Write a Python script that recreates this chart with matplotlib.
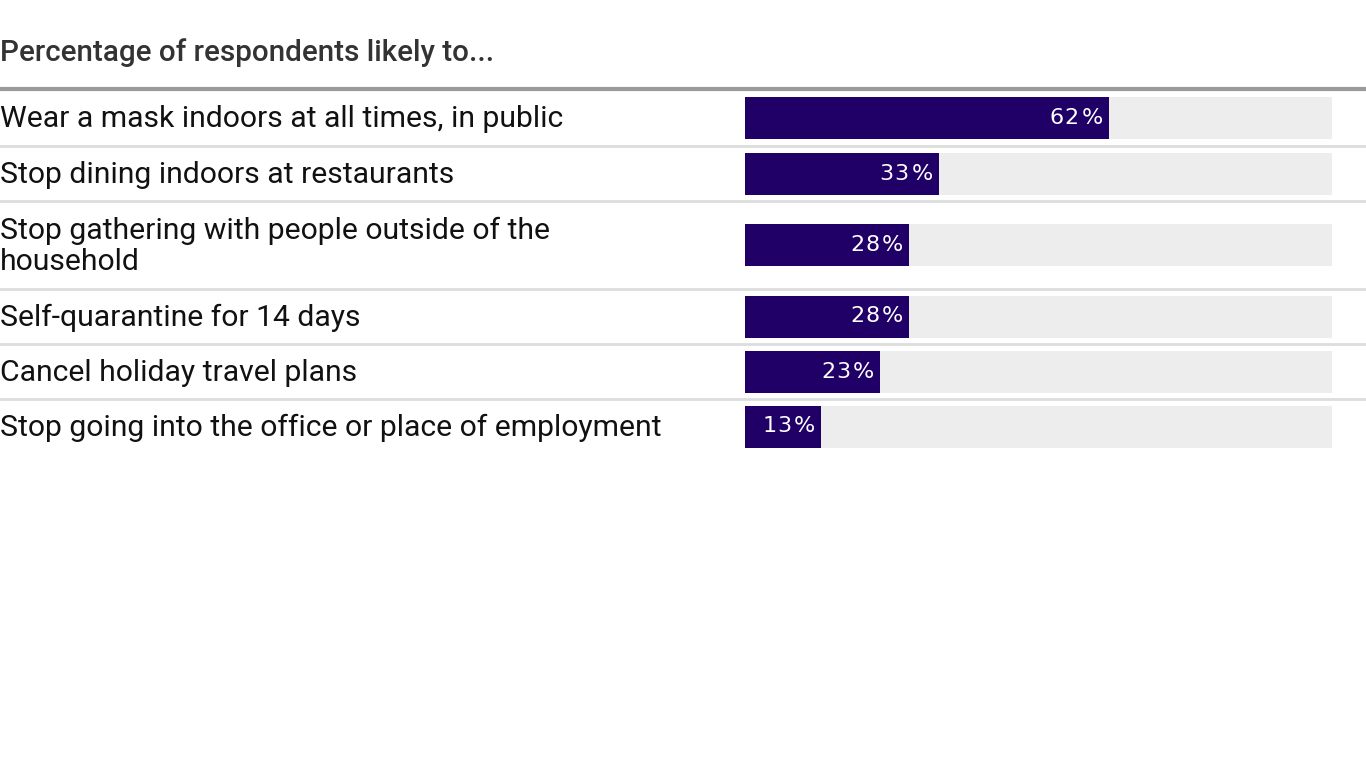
import matplotlib
matplotlib.use("Agg")
import matplotlib.pyplot as plt
from matplotlib.transforms import offset_copy

# ─── données ────────────────────────────────────────────────────────────────
TITLE = "Percentage of respondents likely to..."
LABELS = [
    "Wear a mask indoors at all times, in public",
    "Stop dining indoors at restaurants",
    "Stop gathering with people outside of the\nhousehold",
    "Self-quarantine for 14 days",
    "Cancel holiday travel plans",
    "Stop going into the office or place of employment",
]
VALUES = [62, 33, 28, 28, 23, 13]

# ─── style ──────────────────────────────────────────────────────────────────
W, H = 1366, 768
BAR_COLOR = "#200066"
TRACK_COLOR = "#ededed"
SEP_COLOR = "#dddddd"
TOP_RULE = "#9a9a9a"
TEXT_COLOR = "#111111"
FONT = "Roboto"

BAR_X0, BAR_X1 = 745, 1332   # pixels : 0 % et 100 %
TOP_Y = 89
ROW_H_1 = 55                 # hauteur de ligne, libellé sur une ligne
ROW_H_2 = 88                 # libellé sur deux lignes
BAR_H = 42
PCT_PAD = 6                  # marge droite du signe %
DIGIT_PAD = 30               # bord droit du dernier chiffre
DIGIT_ADV = 15               # chasse des chiffres, espacement large
VAL_SIZE = 16

fig = plt.figure(figsize=(W / 100, H / 100), dpi=100)

# axe plein cadre, coordonnées pixel (y vers le bas)
bg = fig.add_axes([0, 0, 1, 1])
bg.set_xlim(0, W)
bg.set_ylim(H, 0)
bg.axis("off")

# axe des barres : x en pourcentage, y en pixels
ax = fig.add_axes([BAR_X0 / W, 0, (BAR_X1 - BAR_X0) / W, 1])
ax.set_xlim(0, 100)
ax.set_ylim(H, 0)
ax.axis("off")

bg.text(0, 53, TITLE, fontsize=21.3, fontweight="medium", color="#333333",
        family=FONT, ha="left", va="center")
bg.axhline(TOP_Y, color=TOP_RULE, lw=3)


def value_label(val, yc):
    """Valeur en blanc, collée au bout de la barre, lettres espacées."""
    tr = offset_copy(ax.transData, fig=fig, x=-PCT_PAD, y=0, units="dots")
    ax.text(val, yc, "%", color="white", fontsize=VAL_SIZE,
            family="DejaVu Sans", ha="right", va="center", transform=tr)
    for k, ch in enumerate(reversed(str(val))):
        tr = offset_copy(ax.transData, fig=fig,
                         x=-(DIGIT_PAD + k * DIGIT_ADV), y=0, units="dots")
        ax.text(val, yc, ch, color="white", fontsize=VAL_SIZE,
                family="DejaVu Sans", ha="right", va="center", transform=tr)


y = TOP_Y
for i, (lab, val) in enumerate(zip(LABELS, VALUES)):
    h = ROW_H_2 if "\n" in lab else ROW_H_1
    if i == 0:
        h += 2  # la première ligne inclut l'épaisseur du filet du haut
    yc = y + h / 2
    ax.barh(yc, 100, height=BAR_H, left=0, color=TRACK_COLOR, lw=0)
    ax.barh(yc, val, height=BAR_H, left=0, color=BAR_COLOR, lw=0)
    value_label(val, yc)
    bg.text(0, yc + 1.5, lab, fontsize=21.7, color=TEXT_COLOR, family=FONT,
            ha="left", va="center", linespacing=1.17)
    y += h
    if i < len(LABELS) - 1:
        bg.axhline(y, color=SEP_COLOR, lw=2)

fig.savefig("out.png", dpi=100)
